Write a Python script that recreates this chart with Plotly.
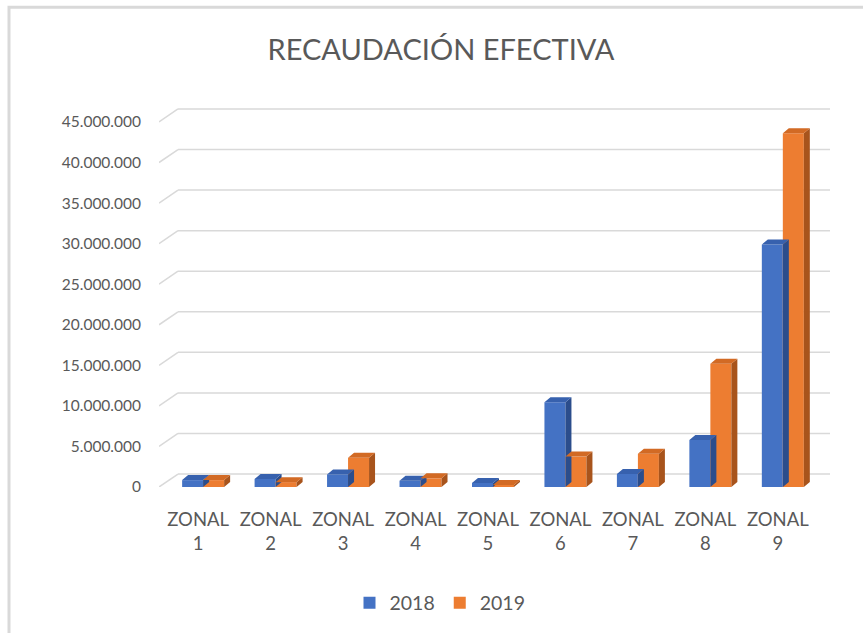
import plotly.graph_objs as go

# Data
zonas = ['ZONAL<br>1', 'ZONAL<br>2', 'ZONAL<br>3', 'ZONAL<br>4', 'ZONAL<br>5',
         'ZONAL<br>6', 'ZONAL<br>7', 'ZONAL<br>8', 'ZONAL<br>9']
recaudacion_2018 = [850000, 1000000, 1550000, 770000, 500000,
                    10450000, 1600000, 5800000, 29900000]
recaudacion_2019 = [850000, 600000, 3600000, 1070000, 250000,
                    3750000, 4100000, 15200000, 43600000]
y_ticks = [0, 5000000, 10000000, 15000000, 20000000,
           25000000, 30000000, 35000000, 40000000, 45000000]

# Geometry of the fake 3D look (pixels -> data units)
W, H = 863, 633
L, R, T, B = 159, 33, 105, 145
x_range = [-0.54, 8.72]
y_range = [0, 47090000]
px_x = (W - L - R) / (x_range[1] - x_range[0])
px_y = (H - T - B) / (y_range[1] - y_range[0])

bar_w = 21 / px_x
shift = 5 / px_x
depth_x = 6 / px_x
depth_y = 5 / px_y
wall_x = 19 / px_x
wall_y = 13 / px_y

grey = '#595959'
font = 'Lato, "Open Sans", sans-serif'


def faces(centers, values):
    """Polygons for top and side faces of each bar."""
    top_x, top_y, side_x, side_y = [], [], [], []
    for c, v in zip(centers, values):
        x0, x1 = c - bar_w / 2, c + bar_w / 2
        top_x += [x0, x1, x1 + depth_x, x0 + depth_x, x0, None]
        top_y += [v, v, v + depth_y, v + depth_y, v, None]
        side_x += [x1, x1 + depth_x, x1 + depth_x, x1, x1, None]
        side_y += [0, depth_y, v + depth_y, v, 0, None]
    return top_x, top_y, side_x, side_y


series = [
    ('2018', recaudacion_2018, -bar_w / 2, '#4472C4', '#3761AE', '#2B4D8C'),
    ('2019', recaudacion_2019, bar_w / 2, '#ED7D31', '#D26A24', '#A8541C'),
]

fig = go.Figure()
for name, values, offset, front, top, side in series:
    centers = [i + shift + offset for i in range(len(zonas))]
    tx, ty, sx, sy = faces(centers, values)
    fig.add_trace(go.Scatter(x=sx, y=sy, fill='toself', fillcolor=side,
                             mode='lines', line=dict(width=0, color=side),
                             showlegend=False, hoverinfo='skip'))
    fig.add_trace(go.Scatter(x=tx, y=ty, fill='toself', fillcolor=top,
                             mode='lines', line=dict(width=0, color=top),
                             showlegend=False, hoverinfo='skip'))
    fig.add_trace(go.Bar(x=centers, y=values, width=bar_w, name=name,
                         marker=dict(color=front, line=dict(width=0))))

# Back wall gridlines with the little diagonal to the front
shapes = []
for t in y_ticks:
    shapes.append(dict(type='line', xref='x', yref='y', layer='below',
                       x0=x_range[0], y0=t, x1=x_range[0] + wall_x, y1=t + wall_y,
                       line=dict(color='#D9D9D9', width=1.5)))
    shapes.append(dict(type='line', xref='x', yref='y', layer='below',
                       x0=x_range[0] + wall_x, y0=t + wall_y, x1=x_range[1], y1=t + wall_y,
                       line=dict(color='#D9D9D9', width=1.5)))

# Chart frame (only top and left edges are visible in the reference)
pw, ph = W - L - R, H - T - B
shapes.append(dict(type='rect', xref='paper', yref='paper', layer='below',
                   x0=(9 - L) / pw, x1=(W + 20 - L) / pw,
                   y0=-(H + 20 - (H - B)) / ph, y1=(H - B - 7) / ph,
                   line=dict(color='#D9D9D9', width=3)))

fig.update_layout(
    width=W, height=H,
    margin=dict(l=L, r=R, t=T, b=B),
    paper_bgcolor='white', plot_bgcolor='white',
    separators=',.',
    barmode='overlay',
    title=dict(text='RECAUDACIÓN EFECTIVA', x=441 / W, xanchor='center',
               y=1 - 50 / H, yanchor='middle',
               font=dict(family=font, size=29, color=grey)),
    xaxis=dict(range=x_range, tickmode='array', tickvals=list(range(len(zonas))),
               ticktext=zonas, showgrid=False, zeroline=False, showline=False,
               ticks='', tickfont=dict(family=font, size=18.5, color=grey),
               ticklabelstandoff=19),
    yaxis=dict(range=y_range, tickmode='array', tickvals=y_ticks,
               tickformat=',d', showgrid=False, zeroline=False, showline=False,
               ticks='', tickfont=dict(family=font, size=15.5, color=grey),
               ticklabelstandoff=17),
    legend=dict(orientation='h', x=(440 - L) / pw, xanchor='center',
                y=-(603 - (H - B)) / ph, yanchor='middle',
                font=dict(family=font, size=19.5, color=grey),
                itemwidth=30),
    shapes=shapes,
    showlegend=True,
)

fig.write_html('out.html', config={'displayModeBar': False},
               post_script="document.body.style.margin='0';")
